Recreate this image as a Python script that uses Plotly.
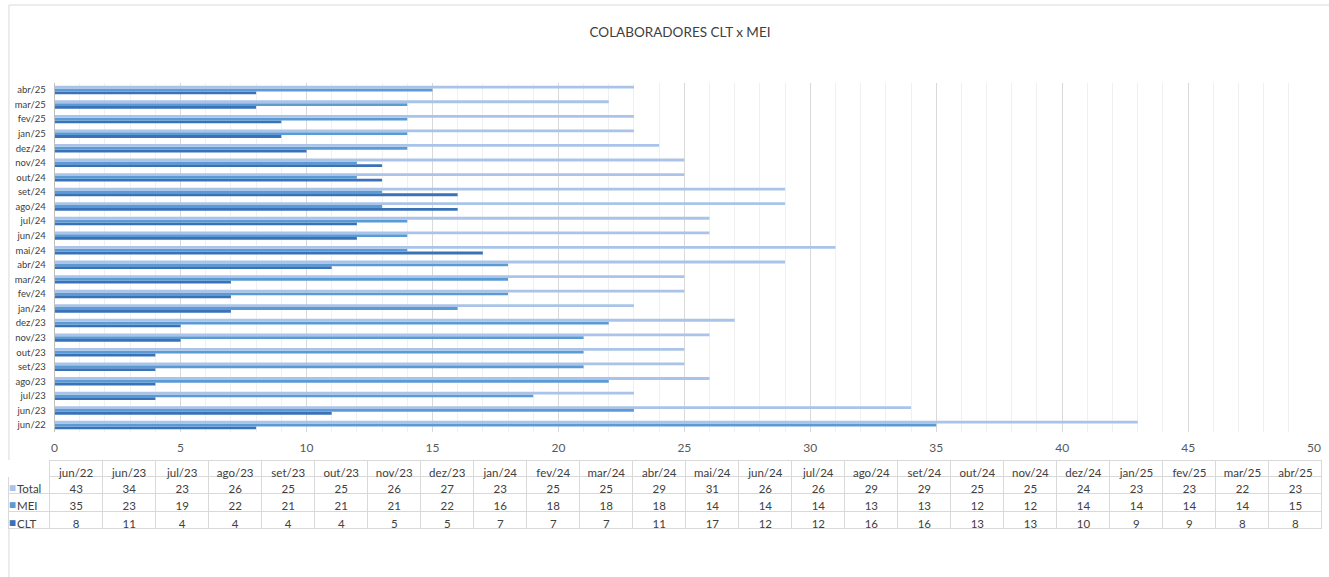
import plotly.graph_objects as go

categories = ["jun/22", "jun/23", "jul/23", "ago/23", "set/23", "out/23", "nov/23", "dez/23",
              "jan/24", "fev/24", "mar/24", "abr/24", "mai/24", "jun/24", "jul/24", "ago/24",
              "set/24", "out/24", "nov/24", "dez/24", "jan/25", "fev/25", "mar/25", "abr/25"]
total = [43, 34, 23, 26, 25, 25, 26, 27, 23, 25, 25, 29, 31, 26, 26, 29, 29, 25, 25, 24, 23, 23, 22, 23]
mei = [35, 23, 19, 22, 21, 21, 21, 22, 16, 18, 18, 18, 14, 14, 14, 13, 13, 12, 12, 14, 14, 14, 14, 15]
clt = [8, 11, 4, 4, 4, 4, 5, 5, 7, 7, 7, 11, 17, 12, 12, 16, 16, 13, 13, 10, 9, 9, 8, 8]
series_names = ["Total", "MEI", "CLT"]

C_CLT = "#3A72B8"
C_MEI = "#5B9BD5"
C_TOT = "#A9C4E8"
series_colors = [C_TOT, C_MEI, C_CLT]

W, H = 1329, 577
FONT = "Lato"

fig = go.Figure()
for name, vals, col in [("CLT", clt, C_CLT), ("MEI", mei, C_MEI), ("Total", total, C_TOT)]:
    fig.add_trace(go.Bar(y=categories, x=vals, orientation="h", name=name,
                         marker=dict(color=col, line=dict(width=0)),
                         xaxis="x", yaxis="y"))

# data table below the chart
TBL_TOP = 460
HDR_H = 16
ROW_H = 17.5
TBL_LEFT = 6
header_vals = [""] + categories
cell_vals = [series_names]
for i in range(len(categories)):
    cell_vals.append([total[i], mei[i], clt[i]])

first_w = 47 - TBL_LEFT
col_w = (W - 47) / len(categories)
fig.add_trace(go.Table(
    domain=dict(x=[TBL_LEFT / W, 1.0], y=[1 - 550 / H, 1 - TBL_TOP / H]),
    columnwidth=[first_w] + [col_w] * len(categories),
    header=dict(values=header_vals, height=HDR_H, align="center",
                line=dict(color=["white"] + ["#D9D9D9"] * len(categories), width=1),
                fill=dict(color="white"),
                font=dict(family=FONT, size=11.5, color="#404040")),
    cells=dict(values=cell_vals, height=ROW_H,
               align=["left"] + ["center"] * len(categories),
               line=dict(color="#D9D9D9", width=1),
               fill=dict(color="white"),
               font=dict(family=FONT, size=11.5, color="#404040")),
))

# legend keys (coloured squares) in the table's first column
annotations = []
for k, (nm, col) in enumerate(zip(series_names, series_colors)):
    yc = TBL_TOP + HDR_H + ROW_H * (k + 0.5) + 2.5
    annotations.append(dict(text="■", x=(TBL_LEFT + 4) / W, y=1 - yc / H,
                            xref="paper", yref="paper", showarrow=False,
                            xanchor="center", yanchor="middle",
                            font=dict(family="DejaVu Sans", size=7.5, color=col)))

fig.update_layout(
    width=W, height=H,
    margin=dict(l=0, r=0, t=0, b=0),
    paper_bgcolor="white", plot_bgcolor="white",
    barmode="group", bargap=0.42, bargroupgap=0,
    showlegend=False,
    title=dict(text="COLABORADORES CLT x MEI", x=680 / W, xanchor="center",
               y=1 - 32 / H, yanchor="middle",
               font=dict(family=FONT, size=13.5, color="#404040")),
    xaxis=dict(domain=[52 / W, 1321 / W], range=[0, 50], dtick=5, tick0=0,
               showgrid=True, gridcolor="#D9D9D9", gridwidth=1,
               minor=dict(dtick=1, showgrid=True, gridcolor="#F0F0F0", gridwidth=1),
               zeroline=False, showline=False, ticks="", ticklabelstandoff=7,
               tickfont=dict(family=FONT, size=12, color="#595959"),
               anchor="y", fixedrange=True),
    yaxis=dict(domain=[1 - 432.3 / H, 1 - 82.7 / H], type="category",
               showgrid=False, showline=True, linecolor="#BFBFBF", linewidth=1,
               ticks="", ticklabelstandoff=6,
               tickfont=dict(family=FONT, size=9.5, color="#404040"),
               anchor="x", fixedrange=True),
    annotations=annotations,
    shapes=[dict(type="rect", xref="paper", yref="paper",
                 x0=6 / W, x1=1.01, y0=-0.1, y1=1 - 5 / H,
                 line=dict(color="#D9D9D9", width=1), fillcolor="rgba(0,0,0,0)", layer="below")],
)

fig.write_html("out.html", config={"displayModeBar": False},
               post_script="document.body.style.margin='0';")
